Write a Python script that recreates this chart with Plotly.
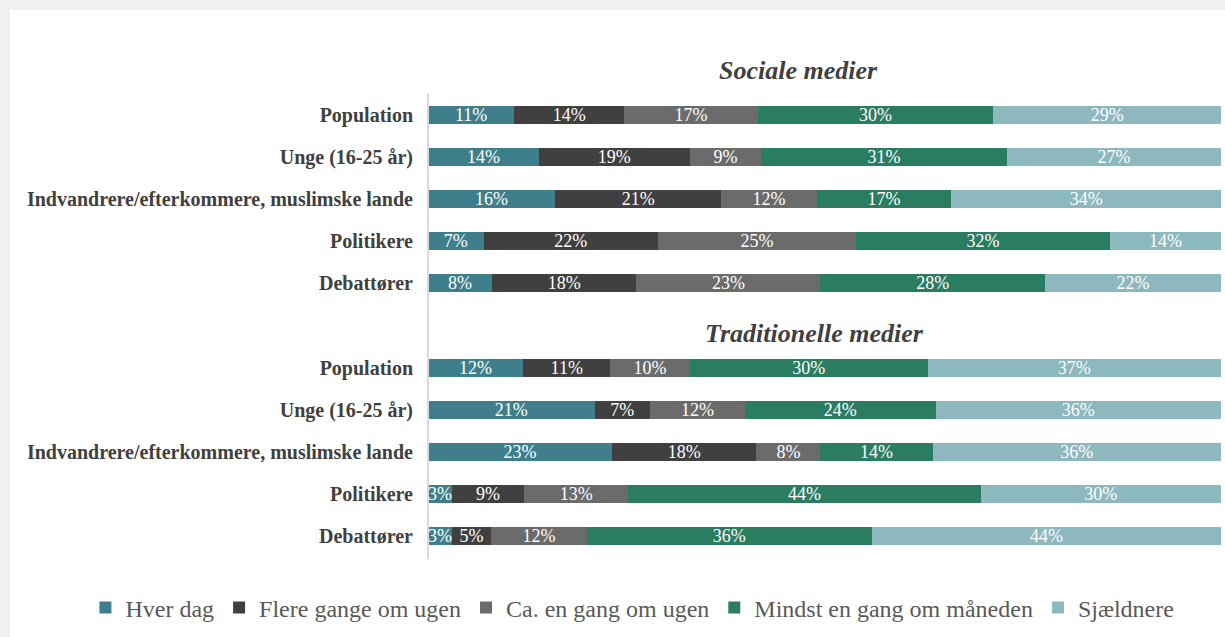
import plotly.graph_objects as go
from plotly.subplots import make_subplots

categories = ["Population", "Unge (16-25 år)", "Indvandrere/efterkommere, muslimske lande",
              "Politikere", "Debattører"]
series_names = ["Hver dag", "Flere gange om ugen", "Ca. en gang om ugen",
                "Mindst en gang om måneden", "Sjældnere"]

sociale = {
    "Hver dag": [11, 14, 16, 7, 8],
    "Flere gange om ugen": [14, 19, 21, 22, 18],
    "Ca. en gang om ugen": [17, 9, 12, 25, 23],
    "Mindst en gang om måneden": [30, 31, 17, 32, 28],
    "Sjældnere": [29, 27, 34, 14, 22],
}
traditionelle = {
    "Hver dag": [12, 21, 23, 3, 3],
    "Flere gange om ugen": [11, 7, 18, 9, 5],
    "Ca. en gang om ugen": [10, 12, 8, 13, 12],
    "Mindst en gang om måneden": [30, 24, 14, 44, 36],
    "Sjældnere": [37, 36, 36, 30, 44],
}
group_titles = ["Sociale medier", "Traditionelle medier"]

colors = ["#3e7f8b", "#404040", "#6b6b6b", "#2b7d62", "#8db8be"]

SERIF = "Liberation Serif, Times New Roman, serif"

fig = make_subplots(rows=2, cols=1, shared_xaxes=True, vertical_spacing=0.0929)

for row, data in [(1, sociale), (2, traditionelle)]:
    for name, col in zip(series_names, colors):
        vals = data[name]
        fig.add_trace(go.Bar(
            y=categories, x=vals, name=name, orientation="h",
            marker=dict(color=col, line=dict(width=0)),
            text=[f"{v}%" for v in vals], textposition="inside",
            insidetextanchor="middle", textangle=0,
            textfont=dict(family=SERIF, size=18, color="white"),
            constraintext="none",
            showlegend=(row == 1), legendgroup=name,
            hoverinfo="skip",
        ), row=row, col=1)

fig.update_layout(
    barmode="stack", barnorm="percent", bargap=0.56,
    width=1225, height=637,
    margin=dict(l=428, r=4, t=94, b=80, autoexpand=False),
    paper_bgcolor="#f0f0ef", plot_bgcolor="white",
    font=dict(family=SERIF, color="#404040"),
    uniformtext=dict(minsize=10, mode="show"),
    legend=dict(orientation="h", x=-0.432, xanchor="left", y=-0.11, yanchor="middle",
                font=dict(family=SERIF, size=24, color="#595959"),
                itemwidth=30, traceorder="normal", bgcolor="rgba(0,0,0,0)",
                tracegroupgap=0),
    shapes=[
        dict(type="rect", xref="paper", yref="paper", x0=-0.527, x1=1.01,
             y0=-0.18, y1=1.1814, fillcolor="white", line=dict(width=0), layer="below"),
        dict(type="line", xref="paper", yref="paper", x0=0, x1=0, y0=-0.005, y1=1.0,
             line=dict(color="#d9d9d9", width=2), layer="above"),
    ],
    annotations=[
        dict(text="<b><i>" + group_titles[0] + "</i></b>", xref="paper", yref="paper",
             x=0.4666, y=1.0518, xanchor="center", yanchor="middle", showarrow=False,
             font=dict(family=SERIF, size=26, color="#404040")),
        dict(text="<b><i>" + group_titles[1] + "</i></b>", xref="paper", yref="paper",
             x=0.488, y=0.4838, xanchor="center", yanchor="middle", showarrow=False,
             font=dict(family=SERIF, size=26, color="#404040")),
    ],
)

for ax in ["xaxis", "xaxis2"]:
    fig.layout[ax].update(range=[0, 100], showticklabels=False, showgrid=False,
                          zeroline=False, showline=False, ticks="")
for ax in ["yaxis", "yaxis2"]:
    fig.layout[ax].update(autorange="reversed", showgrid=False, zeroline=False,
                          showline=False, ticks="", ticklabelstandoff=14,
                          tickfont=dict(family=SERIF, size=20, color="#404040", weight="bold"))

fig.write_html("out.html", config={"displayModeBar": False},
               post_script="document.body.style.margin='0';")
